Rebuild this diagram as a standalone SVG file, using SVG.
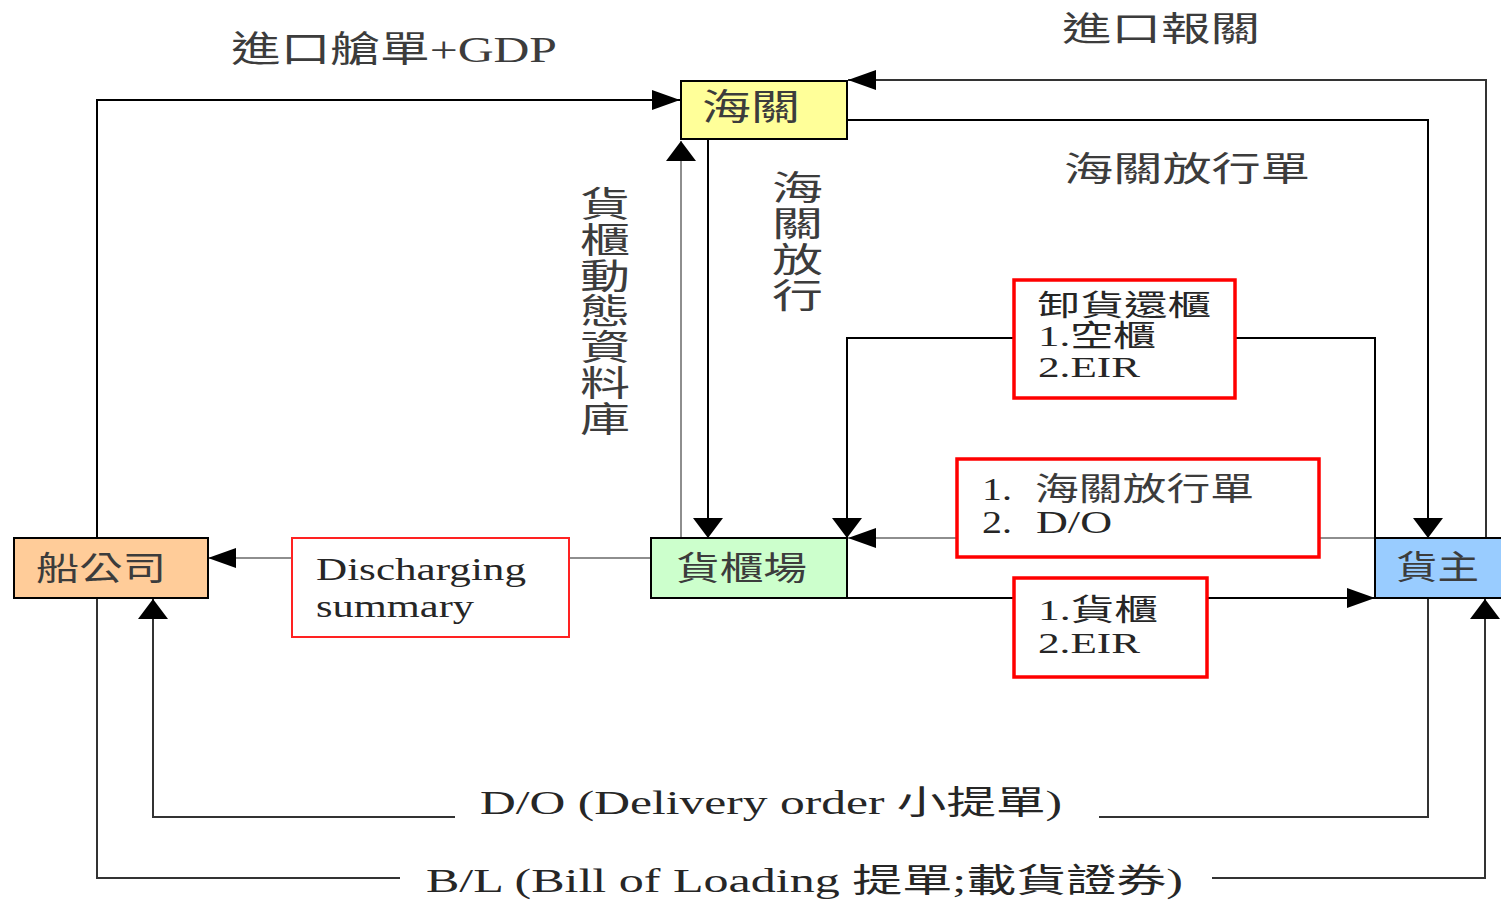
<svg xmlns="http://www.w3.org/2000/svg" width="1501" height="903" viewBox="0 0 1501 903">
<style>
.t{font-family:"Liberation Serif","Noto Sans CJK TC",serif;fill:#262626}
.cj{fill:#3c3c3c}
.c{fill:none;stroke:#000;stroke-width:2}
.g{stroke:#8e8e8e}
.d{stroke:#333}
.box{stroke:#000;stroke-width:2}
.red{fill:#fff;stroke:#f00;stroke-width:3.5}
.red2{fill:#fff;stroke:#f22;stroke-width:2}
</style>
<defs>
<marker id="ah" viewBox="0 0 28 20" refX="28" refY="10" markerWidth="28" markerHeight="20" orient="auto" markerUnits="userSpaceOnUse"><path d="M0,0 L28,10 L0,20 z" fill="#000"/></marker>
<marker id="av" viewBox="0 0 20 30" refX="20" refY="15" markerWidth="20" markerHeight="30" orient="auto" markerUnits="userSpaceOnUse"><path d="M0,0 L20,15 L0,30 z" fill="#000"/></marker>
</defs>
<rect width="1501" height="903" fill="#fff"/>

<g id="connectors">
<path class="c" d="M97,538 V100 H680" marker-end="url(#ah)"/>
<path class="c d" d="M1486,538 V80 H848" marker-end="url(#ah)"/>
<path class="c" d="M848,120 H1428 V538" marker-end="url(#av)"/>
<path class="c g" d="M681,538 V141" marker-end="url(#av)"/>
<path class="c" d="M708,139 V538" marker-end="url(#av)"/>
<path class="c" d="M1375,538 V338 H847 V538" marker-end="url(#av)"/>
<path class="c g" d="M1375,538 H848" marker-end="url(#ah)"/>
<path class="c" d="M847,598 H1375" marker-end="url(#ah)"/>
<path class="c g" d="M651,558 H208" marker-end="url(#ah)"/>
<path class="c d" d="M1428,598 V817 H1099 M455,817 H153 V599" marker-end="url(#av)"/>
<path class="c d" d="M97,598 V878 H400 M1212,878 H1485 V599" marker-end="url(#av)"/>
<text class="t cj" x="231" y="62" font-size="36" textLength="326" lengthAdjust="spacingAndGlyphs">進口艙單+GDP</text>
<text class="t cj" x="1062" y="41" font-size="34" textLength="198" lengthAdjust="spacingAndGlyphs">進口報關</text>
<text class="t cj" x="1064" y="181" font-size="34" textLength="246" lengthAdjust="spacingAndGlyphs">海關放行單</text>
<text class="t cj" font-size="35" transform="translate(580,0) scale(1.43,1)"><tspan x="0" y="217">貨</tspan><tspan x="0" y="253">櫃</tspan><tspan x="0" y="289">動</tspan><tspan x="0" y="324">態</tspan><tspan x="0" y="360">資</tspan><tspan x="0" y="396">料</tspan><tspan x="0" y="432">庫</tspan></text>
<text class="t cj" font-size="34" transform="translate(772,0) scale(1.5,1)"><tspan x="0" y="200">海</tspan><tspan x="0" y="236">關</tspan><tspan x="0" y="272">放</tspan><tspan x="0" y="308">行</tspan></text>
<text class="t" x="480" y="814" font-size="33" textLength="582" lengthAdjust="spacingAndGlyphs">D/O (Delivery order 小提單)</text>
<text class="t" x="426" y="892" font-size="33" textLength="757" lengthAdjust="spacingAndGlyphs">B/L (Bill of Loading 提單;載貨證券)</text>
</g>

<g id="label-discharging">
<rect class="red2" x="292" y="538" width="277" height="99"/>
<text class="t" x="316" y="580" font-size="31" textLength="210" lengthAdjust="spacingAndGlyphs">Discharging</text>
<text class="t" x="316" y="617" font-size="31" textLength="158" lengthAdjust="spacingAndGlyphs">summary</text>
</g>
<g id="label-return">
<rect class="red" x="1014" y="280" width="221" height="118"/>
<text class="t" x="1037" y="316" font-size="29" textLength="174" lengthAdjust="spacingAndGlyphs">卸貨還櫃</text>
<text class="t" x="1038" y="346" font-size="30" textLength="118" lengthAdjust="spacingAndGlyphs">1.空櫃</text>
<text class="t" x="1038" y="377" font-size="30" textLength="102" lengthAdjust="spacingAndGlyphs">2.EIR</text>
</g>
<g id="label-release">
<rect class="red" x="957" y="459" width="362" height="98"/>
<text class="t" x="982" y="500" font-size="31" textLength="30" lengthAdjust="spacingAndGlyphs">1.</text>
<text class="t cj" x="1035" y="500" font-size="32" textLength="219" lengthAdjust="spacingAndGlyphs">海關放行單</text>
<text class="t" x="982" y="533" font-size="31" textLength="30" lengthAdjust="spacingAndGlyphs">2.</text>
<text class="t" x="1036" y="533" font-size="31" textLength="76" lengthAdjust="spacingAndGlyphs">D/O</text>
</g>
<g id="label-container">
<rect class="red" x="1014" y="578" width="193" height="99"/>
<text class="t" x="1038" y="620" font-size="30" textLength="120" lengthAdjust="spacingAndGlyphs">1.貨櫃</text>
<text class="t" x="1038" y="653" font-size="30" textLength="102" lengthAdjust="spacingAndGlyphs">2.EIR</text>
</g>

<g id="node-customs">
<rect class="box" x="681" y="81" width="166" height="58" fill="#ffff99"/>
<text class="t cj" x="702" y="120" font-size="36" textLength="98" lengthAdjust="spacingAndGlyphs">海關</text>
</g>
<g id="node-carrier">
<rect class="box" x="14" y="538" width="194" height="60" fill="#ffcc99"/>
<text class="t cj" x="36" y="580" font-size="33" textLength="130" lengthAdjust="spacingAndGlyphs">船公司</text>
</g>
<g id="node-cy">
<rect class="box" x="651" y="538" width="196" height="60" fill="#ccffcc"/>
<text class="t cj" x="676" y="580" font-size="33" textLength="131" lengthAdjust="spacingAndGlyphs">貨櫃場</text>
</g>
<g id="node-consignee">
<rect class="box" x="1375" y="538" width="140" height="60" fill="#99ccff"/>
<text class="t cj" x="1396" y="579" font-size="33" textLength="83" lengthAdjust="spacingAndGlyphs">貨主</text>
</g>
</svg>
